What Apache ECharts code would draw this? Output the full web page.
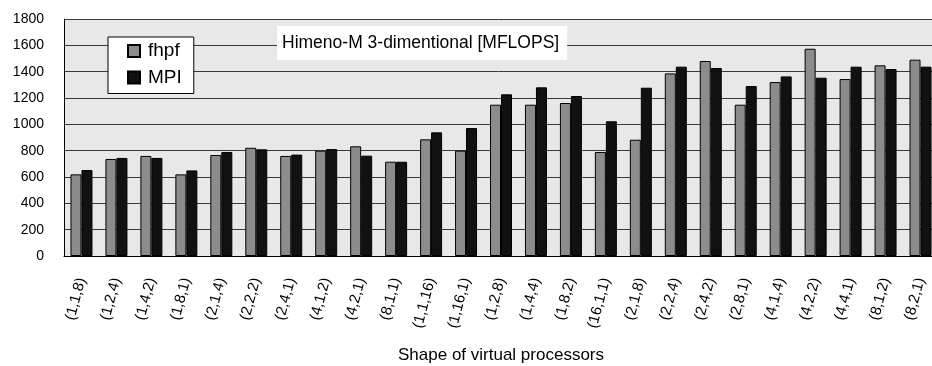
<!DOCTYPE html>
<html>
<head>
<meta charset="utf-8">
<script src="https://cdn.jsdelivr.net/npm/echarts@6/dist/echarts.min.js"></script>
<style>
html,body{margin:0;padding:0;background:#fff;}
#chart{width:932px;height:366px;}
</style>
</head>
<body>
<div id="chart"></div>
<script>
var categories = ['(1,1,8)','(1,2,4)','(1,4,2)','(1,8,1)','(2,1,4)','(2,2,2)','(2,4,1)','(4,1,2)','(4,2,1)','(8,1,1)','(1,1,16)','(1,16,1)','(1,2,8)','(1,4,4)','(1,8,2)','(16,1,1)','(2,1,8)','(2,2,4)','(2,4,2)','(2,8,1)','(4,1,4)','(4,2,2)','(4,4,1)','(8,1,2)','(8,2,1)'];
var fhpf = [620,737,760,620,767,822,760,800,833,716,886,800,1149,1149,1162,790,883,1387,1481,1149,1321,1574,1344,1448,1491];
var mpi  = [653,745,745,650,790,810,770,812,762,716,939,972,1228,1281,1215,1023,1278,1438,1428,1291,1364,1354,1438,1420,1438];
var yTicks = {min:0, max:1800, interval:200};
var titleText = 'Himeno-M 3-dimentional [MFLOPS]';
var xName = 'Shape of virtual processors';

var FONT = '"Liberation Sans", Arial, sans-serif';
var chart = echarts.init(document.getElementById('chart'), null, {renderer:'canvas'});
chart.setOption({
  animation:false,
  backgroundColor:'#fff',
  textStyle:{fontFamily:FONT},
  title:{
    text:titleText,
    left:277, top:26,
    backgroundColor:'#fff',
    padding:[8,8,8,5],
    textStyle:{fontFamily:FONT, fontSize:17.5, fontWeight:'normal', color:'#000', lineHeight:18}
  },
  legend:{
    orient:'vertical',
    left:108, top:37,
    backgroundColor:'#fff',
    borderColor:'#000', borderWidth:1,
    padding:[4,12,6,19],
    itemWidth:12, itemHeight:12, itemGap:6.5,
    icon:'rect',
    textStyle:{fontFamily:FONT, fontSize:19, color:'#000', lineHeight:20, padding:[0,0,0,3]},
    data:['fhpf','MPI']
  },
  grid:{
    left:64, top:19, width:874, bottom:110,
    containLabel:false, outerBoundsMode:'none',
    show:true, backgroundColor:'#e8e8e8', borderWidth:0
  },
  xAxis:{
    type:'category',
    data:categories,
    name:xName,
    nameLocation:'middle',
    nameGap:91,
    nameTextStyle:{fontFamily:FONT, fontSize:17, color:'#000'},
    axisLine:{lineStyle:{color:'#000', width:1}},
    axisTick:{inside:true, length:5, lineStyle:{color:'#333'}},
    axisLabel:{rotate:75, margin:22, fontSize:15, color:'#000', fontFamily:FONT, interval:0}
  },
  yAxis:{
    type:'value',
    min:yTicks.min, max:yTicks.max, interval:yTicks.interval,
    axisLine:{show:true, lineStyle:{color:'#000', width:1}},
    axisTick:{show:false},
    axisLabel:{fontSize:14, color:'#000', margin:20, fontFamily:FONT, formatter:function(v){return String(v);}},
    splitLine:{lineStyle:{color:'#3a3a3a', width:1}}
  },
  series:[
    {name:'fhpf', type:'bar', data:fhpf, barWidth:11, barGap:'0%',
     itemStyle:{color:'#8c8c8c', borderColor:'#000', borderWidth:1}},
    {name:'MPI', type:'bar', data:mpi, barWidth:11, barGap:'0%',
     itemStyle:{color:'#111111', borderColor:'#000', borderWidth:1}}
  ]
});
</script>
</body>
</html>
